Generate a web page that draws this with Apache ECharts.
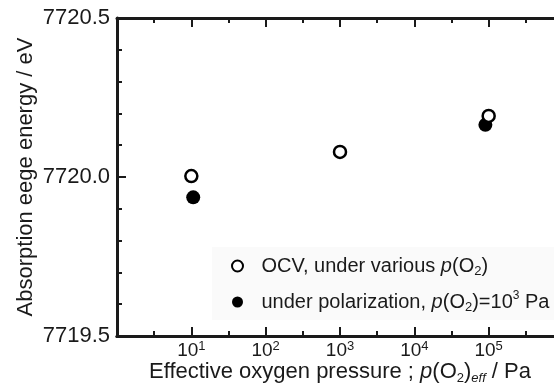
<!DOCTYPE html>
<html><head><meta charset="utf-8">
<script src="https://cdn.jsdelivr.net/npm/echarts@6/dist/echarts.min.js"></script>
<style>html,body{margin:0;padding:0;background:#fff}#c{width:554px;height:385px}</style>
</head><body><div id="c"></div>
<script>
// Data
const ocvPressure = [10, 1000, 100000];
const ocvEnergy = [7720.003, 7720.079, 7720.192];
const polPressure = [10.6, 90300];
const polEnergy = [7719.936, 7720.164];
const yMin = 7719.5, yMax = 7720.5, yStep = 0.5;
const xMin = 1, xMax = 1e6;
const decadeMin = 0, decadeMax = 6;   // exponent range used for the tick rulers
const ocvName = 'OCV, under various {i|p}(O{sub|2})';
const polName = 'under polarization, {i|p}(O{sub|2})=10{sup|3} Pa';
const xTitle = 'Effective oxygen pressure ; {i|p}(O{sub|2}){subi|eff} / Pa';
const yTitle = 'Absorption eege energy / eV';

const font = '"Liberation Sans", Arial, sans-serif';
const ink = '#1a1a1a';
const zip = (a, b) => a.map((v, i) => [v, b[i]]);
const axisLine = {show: true, onZero: false, lineStyle: {color: ink, width: 3}};
const tick = {show: true, inside: true, length: 9, lineStyle: {color: ink, width: 2}};
const minor = (n) => ({show: true, splitNumber: n, length: 5, lineStyle: {color: ink, width: 2}});
const richBase = (fs) => ({
  n: {fontSize: fs, fontFamily: font, color: ink},
  i: {fontSize: fs, fontFamily: font, color: ink, fontStyle: 'italic'},
  sub: {fontSize: 13, fontFamily: font, color: ink, verticalAlign: 'bottom', lineHeight: 13},
  subi: {fontSize: 13, fontFamily: font, color: ink, fontStyle: 'italic', verticalAlign: 'bottom', lineHeight: 13},
  sup: {fontSize: 12, fontFamily: font, color: ink, verticalAlign: 'top', lineHeight: 12}
});

// tick ruler axes (exponent scale) for major + half-decade minor ticks
const ruler = (pos) => ({
  type: 'value', position: pos, min: decadeMin, max: decadeMax, interval: 1,
  splitLine: {show: false}, minorSplitLine: {show: false},
  axisLine, axisTick: tick, minorTick: minor(2), axisLabel: {show: false}
});
const yCommon = {
  type: 'value', min: yMin, max: yMax, interval: yStep, scale: true,
  splitLine: {show: false}, minorSplitLine: {show: false},
  axisLine, axisTick: tick, minorTick: minor(5)
};

const chart = echarts.init(document.getElementById('c'), null, {renderer: 'canvas'});
chart.setOption({
  animation: false,
  backgroundColor: '#fff',
  grid: {left: 117, top: 18, width: 446, height: 318, containLabel: false, outerBoundsMode: 'none'},
  xAxis: [
    {
      type: 'log', logBase: 10, min: xMin, max: xMax, position: 'bottom',
      splitLine: {show: false}, minorSplitLine: {show: false},
      axisLine, axisTick: {show: false}, minorTick: {show: false},
      axisLabel: {
        showMinLabel: false, showMaxLabel: false, margin: 4,
        formatter: v => '{b|10}{s|' + Math.round(Math.log10(v)) + '}',
        rich: {
          b: {fontSize: 19, fontFamily: font, color: ink, lineHeight: 22},
          s: {fontSize: 13, fontFamily: font, color: ink, verticalAlign: 'top', lineHeight: 13}
        }
      },
      name: xTitle, nameLocation: 'middle', nameGap: 23, nameMoveOverlap: false,
      nameTextStyle: {fontSize: 22, fontFamily: font, color: ink, lineHeight: 26, rich: richBase(22)}
    },
    ruler('bottom'),
    ruler('top')
  ],
  yAxis: [
    Object.assign({}, yCommon, {
      position: 'left',
      axisLabel: {fontSize: 22, fontFamily: font, color: ink, margin: 7, formatter: v => v.toFixed(1)},
      name: yTitle, nameLocation: 'middle', nameGap: 80, nameMoveOverlap: false,
      nameTextStyle: {fontSize: 22, fontFamily: font, color: ink}
    }),
    Object.assign({}, yCommon, {position: 'right', axisLabel: {show: false}})
  ],
  legend: {
    orient: 'vertical', left: 212, top: 247, padding: [7, 40, 6, 19],
    backgroundColor: '#fafafa',
    itemWidth: 38, itemHeight: 11, itemGap: 12,
    data: [ocvName, polName], icon: 'circle',
    textStyle: {fontSize: 20, fontFamily: font, color: ink, lineHeight: 24, rich: richBase(20)}
  },
  series: [
    {
      name: polName, type: 'scatter', symbol: 'circle', symbolSize: 14, xAxisIndex: 0, yAxisIndex: 0,
      data: zip(polPressure, polEnergy),
      itemStyle: {color: '#000', borderColor: '#000', borderWidth: 0, opacity: 1}
    },
    {
      name: ocvName, type: 'scatter', symbol: 'circle', symbolSize: 12, xAxisIndex: 0, yAxisIndex: 0,
      data: zip(ocvPressure, ocvEnergy),
      itemStyle: {color: '#fff', borderColor: '#000', borderWidth: 2.5, opacity: 1}
    }
  ]
});
</script></body></html>
